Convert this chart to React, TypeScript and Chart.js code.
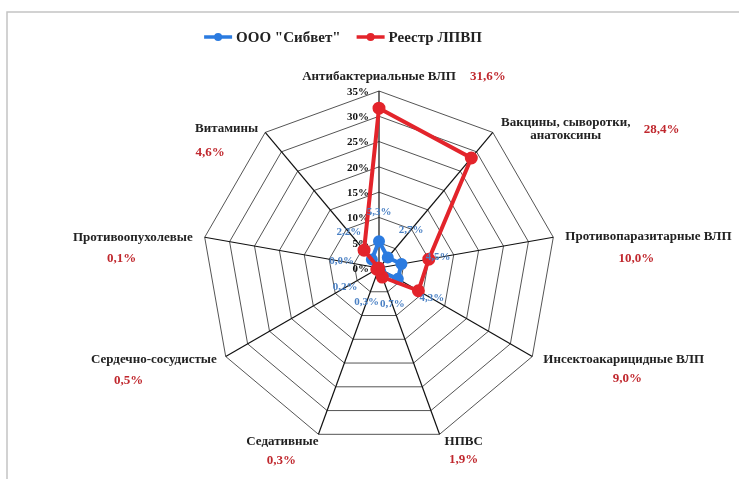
import React, { useEffect, useRef } from "react";
import { Chart, registerables } from "chart.js";

Chart.register(...registerables);

// ---------- data ----------
const categoryLines: string[][] = [
  ["Антибактериальные ВЛП"],
  ["Вакцины, сыворотки,", "анатоксины"],
  ["Противопаразитарные ВЛП"],
  ["Инсектоакарицидные ВЛП"],
  ["НПВС"],
  ["Седативные"],
  ["Сердечно-сосудистые"],
  ["Противоопухолевые"],
  ["Витамины"],
];
const categories = categoryLines.map((l) => l.join(" "));
const sibvetValues = [5.3, 2.7, 4.5, 4.3, 0.7, 0.3, 0.2, 0.0, 2.2];
const registryValues = [31.6, 28.4, 10.0, 9.0, 1.9, 0.3, 0.5, 0.1, 4.6];
const seriesNames = ['ООО "Сибвет"', "Реестр ЛПВП"];
const tickValues = [0, 5, 10, 15, 20, 25, 30, 35];

// ---------- layout / style ----------
const W = 739;
const H = 479;
const FONT = "'Liberation Serif', 'Times New Roman', serif";
const BLUE = "#2b7be0";
const RED = "#e3242b";
const BLUE_LABEL = "#4a80c4";
const RED_LABEL = "#c0282e";

// name / value label offsets relative to each outer vertex
type Off = { dx: number; dy: number; align: CanvasTextAlign };
const nameOffsets: Off[] = [
  { dx: 0, dy: -14, align: "center" },
  { dx: 73, dy: -10, align: "center" },
  { dx: 12, dy: -1, align: "left" },
  { dx: 11, dy: 3, align: "left" },
  { dx: 5, dy: 7, align: "left" },
  { dx: 0, dy: 7, align: "right" },
  { dx: -9, dy: 3, align: "right" },
  { dx: -12, dy: 0, align: "right" },
  { dx: -7, dy: -4, align: "right" },
];
const valueOffsets: Off[] = [
  { dx: 91, dy: -14, align: "left" },
  { dx: 151, dy: -3, align: "left" },
  { dx: 83, dy: 21, align: "center" },
  { dx: 95, dy: 22, align: "center" },
  { dx: 24, dy: 25, align: "center" },
  { dx: -37, dy: 26, align: "center" },
  { dx: -97, dy: 24, align: "center" },
  { dx: -83, dy: 21, align: "center" },
  { dx: -55, dy: 20, align: "center" },
];
const blueLabelDist = [56, 50, 60, 61, 39, 36, 39, 38, 47];

const fmt = (v: number) => v.toFixed(1).replace(".", ",") + "%";

const customPlugin = {
  id: "customDraw",
  beforeDraw(chart: any) {
    const ctx = chart.ctx as CanvasRenderingContext2D;
    ctx.save();
    ctx.fillStyle = "#fff";
    ctx.fillRect(0, 0, W, H);
    ctx.strokeStyle = "#c4c4c4";
    ctx.lineWidth = 1.5;
    ctx.beginPath();
    ctx.moveTo(7, H);
    ctx.lineTo(7, 12);
    ctx.lineTo(W, 12);
    ctx.stroke();
    ctx.restore();
  },
  beforeDatasetsDraw(chart: any) {
    const ctx = chart.ctx as CanvasRenderingContext2D;
    const scale = chart.scales.r;
    ctx.save();
    ctx.font = `bold 11px ${FONT}`;
    ctx.fillStyle = "#111";
    ctx.textAlign = "right";
    ctx.textBaseline = "middle";
    tickValues.forEach((v) => {
      const d = scale.getDistanceFromCenterForValue(v);
      ctx.fillText(v + "%", scale.xCenter - 10, scale.yCenter - d + 1);
    });
    ctx.restore();
  },
  afterDatasetsDraw(chart: any) {
    const ctx = chart.ctx as CanvasRenderingContext2D;
    const scale = chart.scales.r;
    ctx.save();
    ctx.textBaseline = "middle";
    // category names + registry values
    categoryLines.forEach((lines, i) => {
      const p = scale.getPointPosition(i, scale.drawingArea);
      const n = nameOffsets[i];
      ctx.font = `bold 13px ${FONT}`;
      ctx.fillStyle = "#222";
      ctx.textAlign = n.align;
      lines.forEach((line, k) => {
        ctx.fillText(line, p.x + n.dx, p.y + n.dy + k * 13);
      });
      const v = valueOffsets[i];
      ctx.font = `bold 13px ${FONT}`;
      ctx.fillStyle = RED_LABEL;
      ctx.textAlign = v.align;
      ctx.fillText(fmt(registryValues[i]), p.x + v.dx, p.y + v.dy);
    });
    // blue data labels
    ctx.font = `bold 11px ${FONT}`;
    ctx.fillStyle = BLUE_LABEL;
    ctx.textAlign = "center";
    sibvetValues.forEach((val, i) => {
      const p = scale.getPointPosition(i, blueLabelDist[i]);
      ctx.fillText(fmt(val), p.x, p.y);
    });
    // legend
    ctx.font = `bold 15px ${FONT}`;
    const items = [
      { name: seriesNames[0], color: BLUE },
      { name: seriesNames[1], color: RED },
    ];
    const lineW = 28;
    const gap = 4;
    const itemGap = 16;
    const widths = items.map((it) => lineW + gap + ctx.measureText(it.name).width);
    const total = widths[0] + widths[1] + itemGap;
    let x = 343 - total / 2;
    const y = 37;
    items.forEach((it, k) => {
      ctx.strokeStyle = it.color;
      ctx.lineWidth = 3.5;
      ctx.beginPath();
      ctx.moveTo(x, y);
      ctx.lineTo(x + lineW, y);
      ctx.stroke();
      ctx.fillStyle = it.color;
      ctx.beginPath();
      ctx.arc(x + lineW / 2, y, 4, 0, Math.PI * 2);
      ctx.fill();
      ctx.fillStyle = "#222";
      ctx.textAlign = "left";
      ctx.fillText(it.name, x + lineW + gap, y + 1);
      x += widths[k] + itemGap;
    });
    ctx.restore();
  },
};

export default function App() {
  const ref = useRef<HTMLCanvasElement | null>(null);
  useEffect(() => {
    if (!ref.current) return;
    const chart = new Chart(ref.current, {
      type: "radar",
      data: {
        labels: categories,
        datasets: [
          {
            label: seriesNames[1],
            data: registryValues,
            borderColor: RED,
            backgroundColor: RED,
            pointBackgroundColor: RED,
            pointBorderColor: RED,
            borderWidth: 4,
            pointRadius: 4.5,
            fill: false,
            order: 0,
          },
          {
            label: seriesNames[0],
            data: sibvetValues,
            borderColor: BLUE,
            backgroundColor: BLUE,
            pointBackgroundColor: BLUE,
            pointBorderColor: BLUE,
            borderWidth: 4,
            pointRadius: 4,
            fill: false,
            order: 1,
          },
        ],
      },
      options: {
        responsive: false,
        animation: false,
        layout: { padding: { left: 202, right: 183, top: 91, bottom: 34 } },
        plugins: { legend: { display: false }, tooltip: { enabled: false } },
        elements: { line: { tension: 0 } },
        scales: {
          r: {
            min: 0,
            max: 35,
            ticks: { display: false, stepSize: 5 },
            grid: { color: "#555", lineWidth: 1, circular: false },
            angleLines: { color: "#111", lineWidth: 1.2 },
            pointLabels: { display: false },
          },
        },
      },
      plugins: [customPlugin],
    });
    return () => chart.destroy();
  }, []);
  return (
    <div style={{ position: "fixed", left: 0, top: 0, width: W, height: H, background: "#fff" }}>
      <canvas ref={ref} width={W} height={H} style={{ display: "block" }} />
    </div>
  );
}
